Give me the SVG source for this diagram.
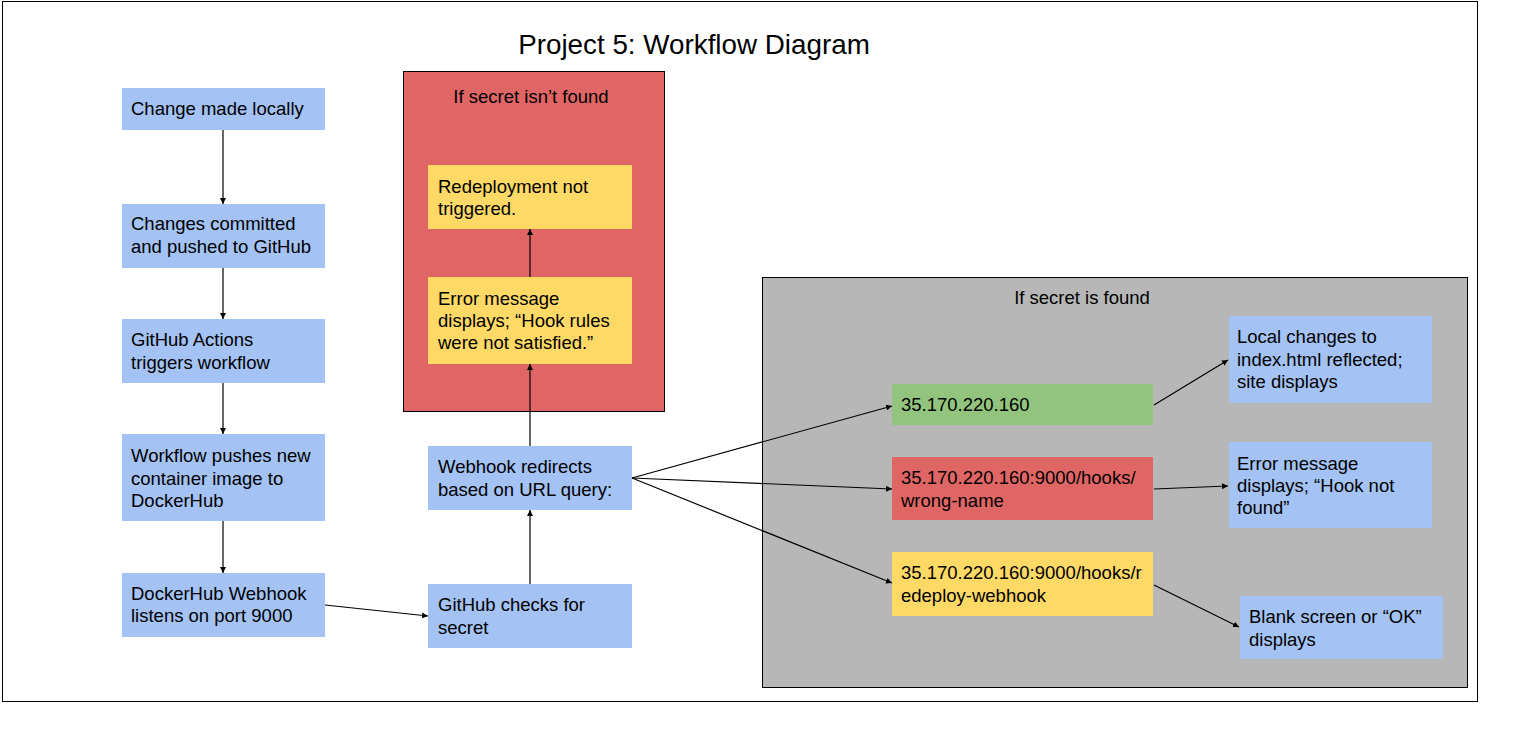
<svg xmlns="http://www.w3.org/2000/svg" width="1533" height="729" viewBox="0 0 1533 729">
<style>
text{font-family:"Liberation Sans",Arial,sans-serif;font-size:18.5px;fill:#000}
.title{font-size:27.8px}
.blue{fill:#a4c2f4}
.red{fill:#e06666}
.yellow{fill:#ffd966}
.green{fill:#93c47d}
.gray{fill:#b7b7b7}
.frame{stroke:#000;stroke-width:1}
.conn line{stroke:#000;stroke-width:1.2;marker-end:url(#ah)}
</style>
<defs>
<marker id="ah" viewBox="0 0 10 10" refX="10" refY="5" markerWidth="5" markerHeight="5" orient="auto" markerUnits="strokeWidth">
<path d="M0,0 L10,5 L0,10 z" fill="#000"/>
</marker>
</defs>
<rect x="0" y="0" width="1533" height="729" fill="#fff"/>
<rect x="2.5" y="1.5" width="1475" height="700" fill="#fff" class="frame"/>
<text class="title" x="694" y="54" text-anchor="middle">Project 5: Workflow Diagram</text>

<g id="notFoundGroup">
<rect x="403.5" y="71.5" width="261" height="340" class="red frame"/>
<text x="531" y="103" text-anchor="middle">If secret isn’t found</text>
</g>
<g id="foundGroup">
<rect x="762.5" y="277.5" width="705" height="410" class="gray frame"/>
<text x="1082" y="304" text-anchor="middle">If secret is found</text>
</g>

<g id="n1"><rect x="122" y="88" width="203" height="42" class="blue"/><text x="131" y="115">Change made locally</text></g>
<g id="n2"><rect x="122" y="204" width="203" height="64" class="blue"/><text x="131" y="230">Changes committed</text><text x="131" y="253">and pushed to GitHub</text></g>
<g id="n3"><rect x="122" y="319" width="203" height="64" class="blue"/><text x="131" y="346">GitHub Actions</text><text x="131" y="369">triggers workflow</text></g>
<g id="n4"><rect x="122" y="434" width="203" height="87" class="blue"/><text x="131" y="462">Workflow pushes new</text><text x="131" y="485">container image to</text><text x="131" y="507">DockerHub</text></g>
<g id="n5"><rect x="122" y="573" width="203" height="64" class="blue"/><text x="131" y="600">DockerHub Webhook</text><text x="131" y="622">listens on port 9000</text></g>

<g id="n6"><rect x="428" y="584" width="204" height="64" class="blue"/><text x="438" y="611">GitHub checks for</text><text x="438" y="634">secret</text></g>
<g id="n7"><rect x="428" y="446" width="204" height="64" class="blue"/><text x="438" y="473">Webhook redirects</text><text x="438" y="496">based on URL query:</text></g>
<g id="n8"><rect x="428" y="277" width="204" height="87" class="yellow"/><text x="438" y="305">Error message</text><text x="438" y="327">displays; “Hook rules</text><text x="438" y="349">were not satisfied.”</text></g>
<g id="n9"><rect x="428" y="165" width="204" height="64" class="yellow"/><text x="438" y="193">Redeployment not</text><text x="438" y="215">triggered.</text></g>

<g id="n10"><rect x="892" y="384" width="261" height="41" class="green"/><text x="901" y="411">35.170.220.160</text></g>
<g id="n11"><rect x="892" y="457" width="261" height="63" class="red"/><text x="901" y="484">35.170.220.160:9000/hooks/</text><text x="901" y="507">wrong-name</text></g>
<g id="n12"><rect x="892" y="552" width="261" height="64" class="yellow"/><text x="901" y="579">35.170.220.160:9000/hooks/r</text><text x="901" y="602">edeploy-webhook</text></g>

<g id="n13"><rect x="1229" y="316" width="203" height="87" class="blue"/><text x="1237" y="343">Local changes to</text><text x="1237" y="366">index.html reflected;</text><text x="1237" y="388">site displays</text></g>
<g id="n14"><rect x="1229" y="442" width="203" height="86" class="blue"/><text x="1237" y="470">Error message</text><text x="1237" y="492">displays; “Hook not</text><text x="1237" y="514">found”</text></g>
<g id="n15"><rect x="1240" y="596" width="203" height="63" class="blue"/><text x="1249" y="623">Blank screen or “OK”</text><text x="1249" y="646">displays</text></g>

<g id="connectors" class="conn">
<line x1="223" y1="130" x2="223" y2="204"/>
<line x1="223" y1="268" x2="223" y2="319"/>
<line x1="223" y1="383" x2="223" y2="434"/>
<line x1="223" y1="521" x2="223" y2="573"/>
<line x1="325" y1="605" x2="428" y2="616"/>
<line x1="530" y1="584" x2="530" y2="510"/>
<line x1="530" y1="446" x2="530" y2="364"/>
<line x1="530" y1="277" x2="530" y2="229"/>
<line x1="632" y1="478" x2="892" y2="406"/>
<line x1="632" y1="478" x2="892" y2="489"/>
<line x1="632" y1="478" x2="892" y2="583"/>
<line x1="1154" y1="405" x2="1228" y2="360"/>
<line x1="1154" y1="489" x2="1228" y2="486"/>
<line x1="1154" y1="585" x2="1239" y2="627"/>
</g>
</svg>
